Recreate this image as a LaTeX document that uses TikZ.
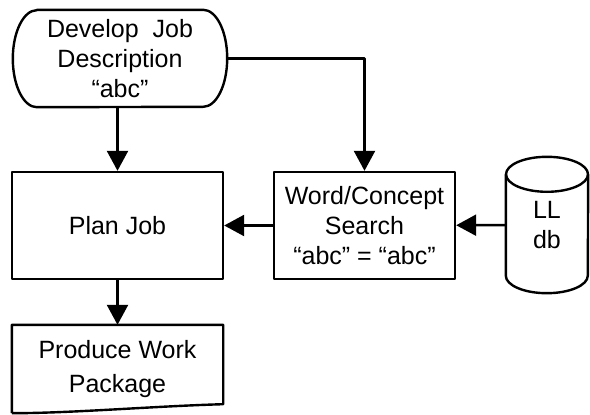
\documentclass[tikz,border=0pt]{standalone}
\usepackage{fontspec}
\setsansfont{Liberation Sans}
\usetikzlibrary{arrows.meta}

\begin{document}
\begin{tikzpicture}[x=1pt,y=-1pt]
\tikzset{
  flowtext/.style={font=\sffamily\fontsize{25}{30}\selectfont,align=center,inner sep=0pt},
  flowline/.style={draw=black,line width=2.4pt,line join=round},
  flowbox/.style={flowtext,rectangle,flowline},
  docnode/.style={flowtext,font=\sffamily\fontsize{25}{34}\selectfont},
  directed/.style={flowline,-{Triangle[length=20pt,width=21pt]}}
}
\useasboundingbox (0,0) rectangle (590,415);
\node[flowtext,minimum width=214pt,minimum height=97pt] (n_dev) at (120,58.5) {Develop\ \ Job\\Description\\“abc”};
\node[flowbox,minimum width=211pt,minimum height=107pt] (n_plan) at (117.5,225.5) {Plan Job};
\node[flowbox,minimum width=181pt,minimum height=107pt] (n_search) at (364.5,225.5) {Word/Concept\\Search\\“abc” = “abc”};
\node[flowtext,minimum width=82pt,minimum height=136pt] (n_lldb) at (547,225) {LL\\db};
\node[docnode,minimum width=211pt,minimum height=88pt] (n_prod) at (117.5,369) {Produce Work\\Package};
% terminal outline with oval ends
\draw[flowline] ([xshift=24pt]n_dev.north west) -- ([xshift=-24pt]n_dev.north east)
  arc[start angle=90,end angle=-90,x radius=24pt,y radius=48.5pt]
  -- ([xshift=24pt]n_dev.south west)
  arc[start angle=270,end angle=90,x radius=24pt,y radius=48.5pt] -- cycle;
% database drum
\draw[flowline] ([yshift=-17.5pt]n_lldb.north west) -- ([yshift=17.5pt]n_lldb.south west)
  arc[start angle=180,end angle=360,x radius=41pt,y radius=17.5pt]
  -- ([yshift=-17.5pt]n_lldb.north east);
\draw[flowline] ([yshift=-17.5pt]n_lldb.north) ellipse[x radius=41pt,y radius=17.5pt];
% document outline with a wavy bottom
\draw[flowline] (n_prod.south west) -- (n_prod.north west) -- (n_prod.north east)
  -- ([yshift=9pt]n_prod.south east) .. controls +(-70,2) and +(60,0) .. (n_prod.south west);
\draw[directed] (n_plan.north |- n_dev.south) -- (n_plan.north);
\draw[directed] (n_dev.east) -| (n_search.north);
\draw[directed] (n_search.west) -- (n_plan.east);
\draw[directed] (n_lldb) -- (n_search);
\draw[directed] (n_plan) -- (n_prod);
\end{tikzpicture}
\end{document}
